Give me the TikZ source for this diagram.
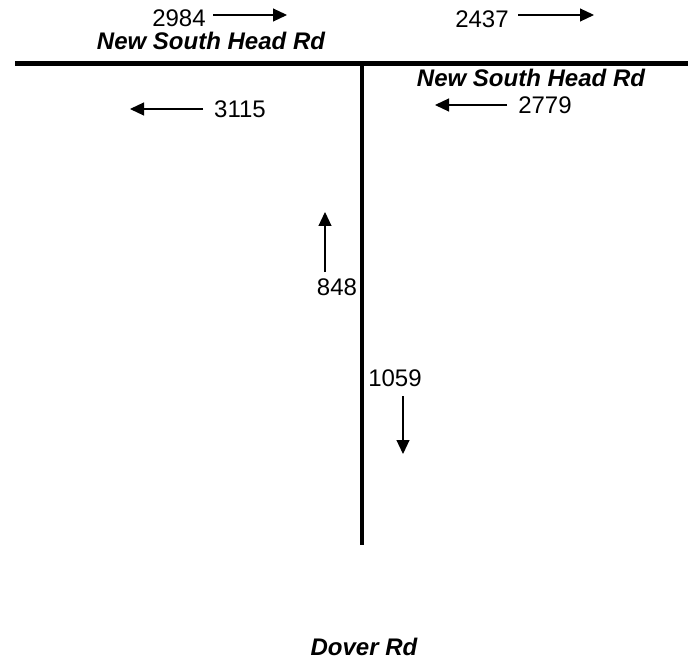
\documentclass[tikz,border=0pt]{standalone}
\usepackage{fontspec}
\setmainfont{Liberation Sans}
\usetikzlibrary{arrows,arrows.meta}

\begin{document}
\begin{tikzpicture}[x=1pt,y=-1pt,
road/.style={line width=4.5pt},
count/.style={font=\fontsize{24}{28}\selectfont,inner sep=0pt},
roadname/.style={font=\fontsize{24}{28}\selectfont\bfseries\itshape,inner sep=0pt},
flow/.style={-{Triangle[length=14pt,width=13pt]},line width=1.1pt}]

\useasboundingbox (0,0) rectangle (688,663);

\draw[road] (15,63.5) -- (688,63.5);

\draw[road] (362,63.5) -- (362,545);

\node[count] (NW) at (179,18.5) {2984};

\node[count] (NE) at (482,19) {2437};

\node[count] (SW) at (240,109) {3115};

\node[count] (SE) at (545,105) {2779};

\node[count] (UP) at (337,287.5) {848};

\node[count] (DN) at (395,378.5) {1059};

\node[roadname] (nshL) at (211,41) {New South Head Rd};

\node[roadname] (nshR) at (531,78) {New South Head Rd};

\node[roadname] (dover) at (364,647) {Dover Rd};

\coordinate (NWa) at (213,15);
\coordinate (NWb) at (287,15);
\coordinate (NEa) at (518,15);
\coordinate (NEb) at (594,15);
\coordinate (SWa) at (203,109);
\coordinate (SWb) at (130,109);
\coordinate (SEa) at (507,105);
\coordinate (SEb) at (435,105);
\coordinate (UPa) at (325,272);
\coordinate (UPb) at (325,212);
\coordinate (DNa) at (403,396);
\coordinate (DNb) at (403,454);

\draw[flow] (NWa) -- (NWb);

\draw[flow] (NEa) -- (NEb);

\draw[flow] (SWa) -- (SWb);

\draw[flow] (SEa) -- (SEb);

\draw[flow] (UPa) -- (UPb);

\draw[flow] (DNa) -- (DNb);

\end{tikzpicture}
\end{document}
